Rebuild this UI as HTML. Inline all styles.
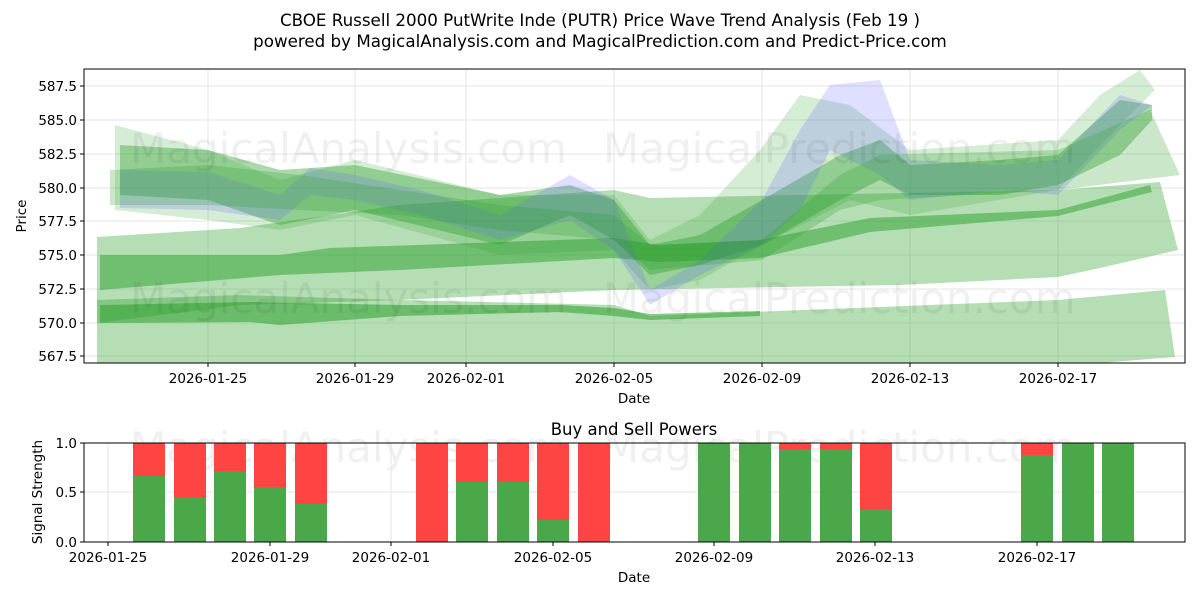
<!DOCTYPE html>
<html><head><meta charset="utf-8"><style>
body{margin:0;background:#fff;font-family:"Liberation Sans","DejaVu Sans",sans-serif}
svg text{font-family:"DejaVu Sans","Liberation Sans",sans-serif;fill:#000}
</style></head><body>
<svg width="1200" height="600" viewBox="0 0 1200 600" xmlns="http://www.w3.org/2000/svg">
<rect width="1200" height="600" fill="#fff"/>
<text x="600" y="26" font-size="16.7" text-anchor="middle">CBOE Russell 2000 PutWrite Inde (PUTR) Price Wave Trend Analysis (Feb 19 )</text>
<text x="600" y="47" font-size="16.7" text-anchor="middle">powered by MagicalAnalysis.com and MagicalPrediction.com and Predict-Price.com</text>
<defs><clipPath id="c1"><rect x="84" y="69" width="1101" height="294"/></clipPath></defs>
<g stroke="#e5e5e5" stroke-width="1">
<line x1="208" y1="69" x2="208" y2="363"/><line x1="355" y1="69" x2="355" y2="363"/><line x1="466" y1="69" x2="466" y2="363"/><line x1="614" y1="69" x2="614" y2="363"/><line x1="762" y1="69" x2="762" y2="363"/><line x1="910" y1="69" x2="910" y2="363"/><line x1="1058" y1="69" x2="1058" y2="363"/>
<line x1="84" y1="86" x2="1185" y2="86"/><line x1="84" y1="120" x2="1185" y2="120"/><line x1="84" y1="154" x2="1185" y2="154"/><line x1="84" y1="188" x2="1185" y2="188"/><line x1="84" y1="221" x2="1185" y2="221"/><line x1="84" y1="255" x2="1185" y2="255"/><line x1="84" y1="289" x2="1185" y2="289"/><line x1="84" y1="323" x2="1185" y2="323"/><line x1="84" y1="356" x2="1185" y2="356"/>
</g>
<g clip-path="url(#c1)">
<polygon fill="#2ca02c" fill-opacity="0.35" points="97,237 240,228 400,205 614,190 650,198 1058,190 1160,182 1178,250 1100,268 1058,277 900,285 614,290 400,300 240,305 97,323"/>
<polygon fill="#2ca02c" fill-opacity="0.5" points="100,255 280,255 330,248 614,238 660,245 760,240 870,218 1058,210 1150,185 1152,192 1058,216 870,232 760,258 660,262 614,258 400,270 280,275 100,290"/>
<polygon fill="#2ca02c" fill-opacity="0.35" points="97,300 240,295 400,300 614,305 650,316 1058,300 1165,290 1175,357 1100,363 97,363"/>
<polygon fill="#2ca02c" fill-opacity="0.55" points="100,305 250,302 400,305 560,305 614,308 650,314 760,311 760,316 650,320 614,316 560,312 400,316 280,325 250,322 100,323"/>
<polygon fill="#2ca02c" fill-opacity="0.2" points="115,125 208,150 280,180 355,160 500,195 614,195 650,240 700,215 760,150 800,95 850,105 910,150 1058,140 1100,95 1140,70 1155,90 1120,125 1058,190 910,215 850,200 762,245 700,280 650,290 614,250 500,255 355,215 280,230 208,220 115,210"/>
<polygon fill="#2ca02c" fill-opacity="0.4" points="120,145 208,150 280,170 355,165 500,195 570,185 614,200 650,245 700,235 762,200 840,155 880,140 910,165 1000,160 1058,155 1120,100 1152,105 1152,120 1120,155 1058,185 1000,195 910,195 880,180 840,200 762,245 700,265 650,275 614,240 570,215 500,245 355,210 280,225 208,200 120,195"/>
<polygon fill="#6060ff" fill-opacity="0.2" points="120,170 208,172 280,195 310,168 355,175 420,190 500,215 570,175 614,200 650,290 700,260 762,200 800,130 830,85 880,80 910,160 1000,165 1058,160 1120,95 1152,105 1120,130 1058,195 1000,190 910,200 880,175 830,150 800,210 762,245 700,275 650,305 614,250 570,220 500,240 420,215 355,200 310,195 280,220 208,210 120,208"/>
<polygon fill="#2ca02c" fill-opacity="0.25" points="110,170 208,165 300,175 400,190 500,205 614,215 650,245 762,240 840,175 880,155 1058,150 1150,110 1180,175 1058,190 880,200 840,210 762,260 650,270 614,240 500,230 400,215 300,210 208,205 110,205"/>
</g>
<g font-size="42">
<text x="130" y="163" style="fill-opacity:0.06">MagicalAnalysis.com</text><text x="603" y="163" style="fill-opacity:0.06">MagicalPrediction.com</text>
<text x="130" y="313" style="fill-opacity:0.06">MagicalAnalysis.com</text><text x="603" y="313" style="fill-opacity:0.06">MagicalPrediction.com</text>
<text x="130" y="462" style="fill-opacity:0.06">MagicalAnalysis.com</text><text x="603" y="462" style="fill-opacity:0.06">MagicalPrediction.com</text>
</g>
<rect x="84" y="69" width="1101" height="294" fill="none" stroke="#000"/>
<g font-size="13.5" text-anchor="middle">
<text x="208" y="383">2026-01-25</text><text x="355" y="383">2026-01-29</text><text x="466" y="383">2026-02-01</text><text x="614" y="383">2026-02-05</text><text x="762" y="383">2026-02-09</text><text x="910" y="383">2026-02-13</text><text x="1058" y="383">2026-02-17</text>
<text x="634" y="403" font-size="13.5">Date</text>
</g>
<g stroke="#000"><line x1="208" y1="363" x2="208" y2="367"/><line x1="355" y1="363" x2="355" y2="367"/><line x1="466" y1="363" x2="466" y2="367"/><line x1="614" y1="363" x2="614" y2="367"/><line x1="762" y1="363" x2="762" y2="367"/><line x1="910" y1="363" x2="910" y2="367"/><line x1="1058" y1="363" x2="1058" y2="367"/>
<line x1="80" y1="86" x2="84" y2="86"/><line x1="80" y1="120" x2="84" y2="120"/><line x1="80" y1="154" x2="84" y2="154"/><line x1="80" y1="188" x2="84" y2="188"/><line x1="80" y1="221" x2="84" y2="221"/><line x1="80" y1="255" x2="84" y2="255"/><line x1="80" y1="289" x2="84" y2="289"/><line x1="80" y1="323" x2="84" y2="323"/><line x1="80" y1="356" x2="84" y2="356"/></g>
<g font-size="13.5" text-anchor="end">
<text x="77" y="91">587.5</text><text x="77" y="125">585.0</text><text x="77" y="159">582.5</text><text x="77" y="193">580.0</text><text x="77" y="226">577.5</text><text x="77" y="260">575.0</text><text x="77" y="294">572.5</text><text x="77" y="328">570.0</text><text x="77" y="361">567.5</text>
</g>
<text x="26" y="216" font-size="13.5" text-anchor="middle" transform="rotate(-90 26 216)">Price</text>

<text x="634" y="435" font-size="16.5" text-anchor="middle">Buy and Sell Powers</text>
<g stroke="#e5e5e5"><line x1="84" y1="443" x2="1185" y2="443"/><line x1="84" y1="492" x2="1185" y2="492"/>
<line x1="108" y1="443" x2="108" y2="542"/><line x1="270" y1="443" x2="270" y2="542"/><line x1="391" y1="443" x2="391" y2="542"/><line x1="553" y1="443" x2="553" y2="542"/><line x1="714" y1="443" x2="714" y2="542"/><line x1="875" y1="443" x2="875" y2="542"/><line x1="1037" y1="443" x2="1037" y2="542"/></g>
<g>
<rect x="133" y="443" width="32" height="33" fill="#ff4444"/><rect x="133" y="476" width="32" height="66" fill="#4aa84a"/>
<rect x="174" y="443" width="32" height="54" fill="#ff4444"/><rect x="174" y="497" width="32" height="45" fill="#4aa84a"/>
<rect x="214" y="443" width="32" height="28" fill="#ff4444"/><rect x="214" y="471" width="32" height="71" fill="#4aa84a"/>
<rect x="254" y="443" width="32" height="44" fill="#ff4444"/><rect x="254" y="487" width="32" height="55" fill="#4aa84a"/>
<rect x="295" y="443" width="32" height="61" fill="#ff4444"/><rect x="295" y="504" width="32" height="38" fill="#4aa84a"/>
<rect x="416" y="443" width="32" height="99" fill="#ff4444"/>
<rect x="456" y="443" width="32" height="39" fill="#ff4444"/><rect x="456" y="482" width="32" height="60" fill="#4aa84a"/>
<rect x="497" y="443" width="32" height="39" fill="#ff4444"/><rect x="497" y="482" width="32" height="60" fill="#4aa84a"/>
<rect x="537" y="443" width="32" height="77" fill="#ff4444"/><rect x="537" y="520" width="32" height="22" fill="#4aa84a"/>
<rect x="578" y="443" width="32" height="99" fill="#ff4444"/>
<rect x="698" y="443" width="32" height="99" fill="#4aa84a"/>
<rect x="739" y="443" width="32" height="99" fill="#4aa84a"/>
<rect x="779" y="443" width="32" height="6" fill="#ff4444"/><rect x="779" y="449" width="32" height="93" fill="#4aa84a"/>
<rect x="820" y="443" width="32" height="6" fill="#ff4444"/><rect x="820" y="449" width="32" height="93" fill="#4aa84a"/>
<rect x="860" y="443" width="32" height="66" fill="#ff4444"/><rect x="860" y="509" width="32" height="33" fill="#4aa84a"/>
<rect x="1021" y="443" width="32" height="12" fill="#ff4444"/><rect x="1021" y="455" width="32" height="87" fill="#4aa84a"/>
<rect x="1062" y="443" width="32" height="99" fill="#4aa84a"/>
<rect x="1102" y="443" width="32" height="99" fill="#4aa84a"/>
</g>
<rect x="84" y="443" width="1101" height="99" fill="none" stroke="#000"/>
<g stroke="#000"><line x1="80" y1="443" x2="84" y2="443"/><line x1="80" y1="492" x2="84" y2="492"/><line x1="80" y1="542" x2="84" y2="542"/>
<line x1="108" y1="542" x2="108" y2="546"/><line x1="270" y1="542" x2="270" y2="546"/><line x1="391" y1="542" x2="391" y2="546"/><line x1="553" y1="542" x2="553" y2="546"/><line x1="714" y1="542" x2="714" y2="546"/><line x1="875" y1="542" x2="875" y2="546"/><line x1="1037" y1="542" x2="1037" y2="546"/></g>
<g font-size="13.5" text-anchor="end"><text x="77" y="448">1.0</text><text x="77" y="497">0.5</text><text x="77" y="547">0.0</text></g>
<g font-size="13.5" text-anchor="middle">
<text x="108" y="562">2026-01-25</text><text x="270" y="562">2026-01-29</text><text x="391" y="562">2026-02-01</text><text x="553" y="562">2026-02-05</text><text x="714" y="562">2026-02-09</text><text x="875" y="562">2026-02-13</text><text x="1037" y="562">2026-02-17</text>
<text x="634" y="582">Date</text></g>
<text x="42" y="492" font-size="13.5" text-anchor="middle" transform="rotate(-90 42 492)">Signal Strength</text>
</svg>
</body></html>
